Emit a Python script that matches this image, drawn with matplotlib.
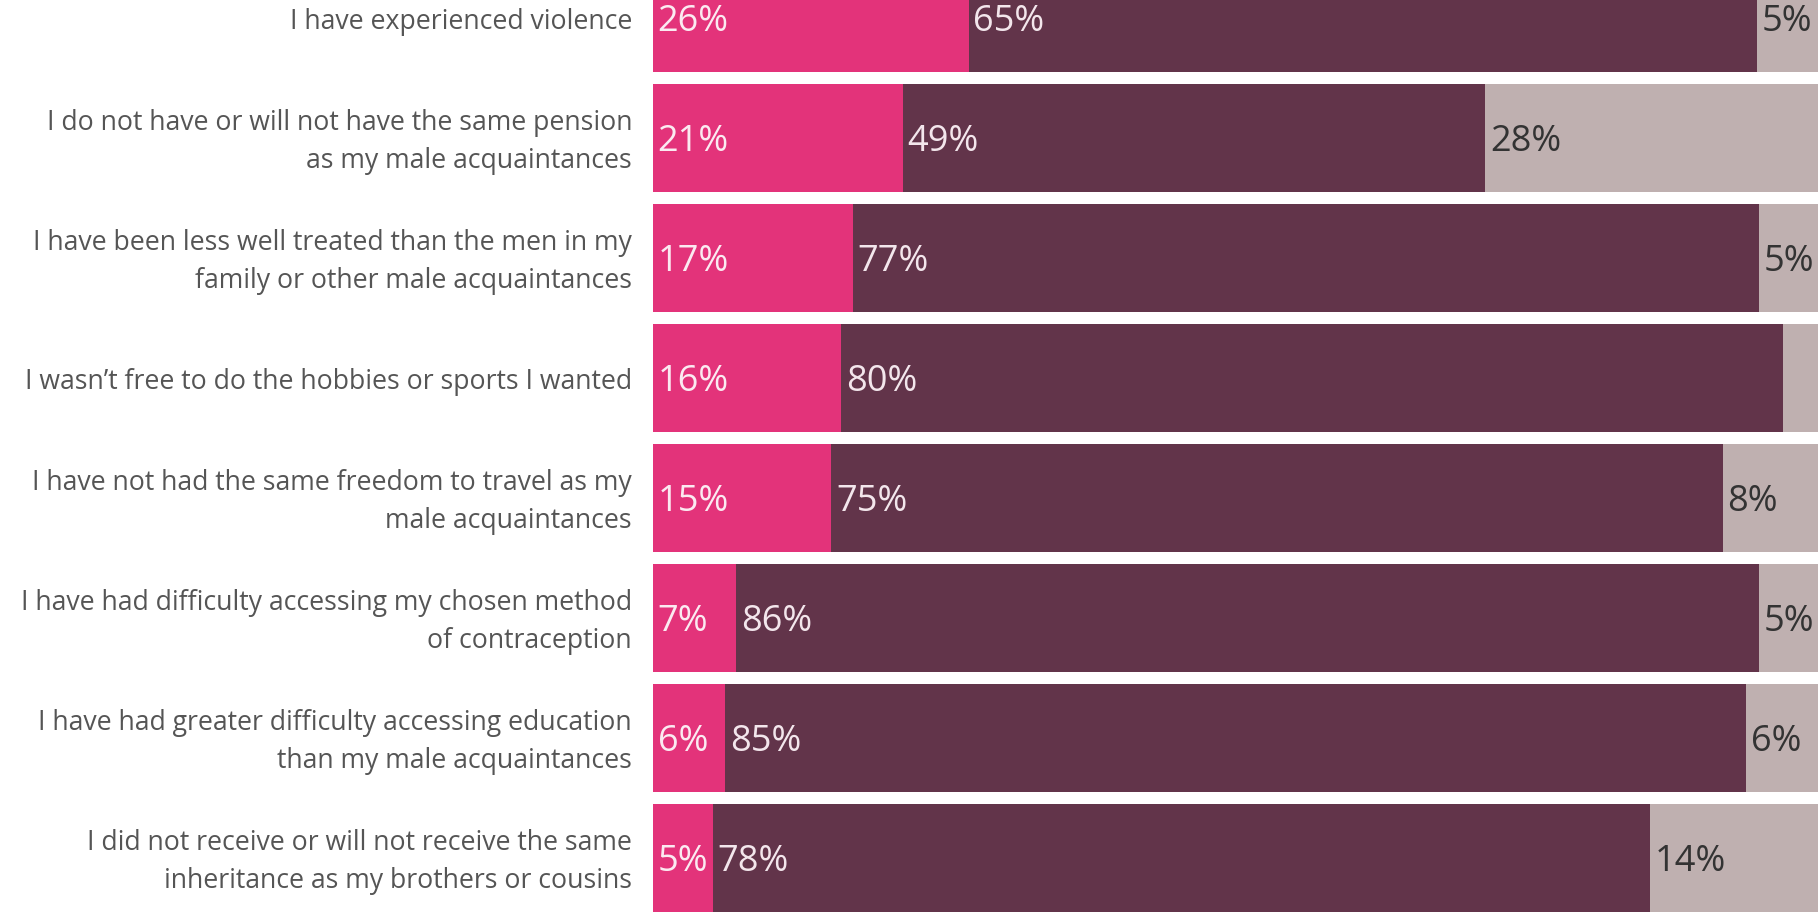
import matplotlib
matplotlib.use("Agg")
from matplotlib import pyplot as plt
import numpy as np

plt.rcParams['font.family'] = ['Open Sans', 'DejaVu Sans']

# statements, top to bottom
categories = [
    "I have experienced violence",
    "I do not have or will not have the same pension\nas my male acquaintances",
    "I have been less well treated than the men in my\nfamily or other male acquaintances",
    "I wasn\u2019t free to do the hobbies or sports I wanted",
    "I have not had the same freedom to travel as my\nmale acquaintances",
    "I have had difficulty accessing my chosen method\nof contraception",
    "I have had greater difficulty accessing education\nthan my male acquaintances",
    "I did not receive or will not receive the same\ninheritance as my brothers or cousins",
]
yes_vals = [26, 21, 17, 16, 15, 7, 6, 5]
no_vals = [65, 49, 77, 80, 75, 86, 85, 78]
dk_vals = [5, 28, 5, 3, 8, 5, 6, 14]

pink = '#e3337a'
plum = '#62344a'
grey = '#bfb0b0'

yes = np.array(yes_vals, dtype=float)
no = np.array(no_vals, dtype=float)
dk = np.array(dk_vals, dtype=float)
tot = yes + no + dk
# bars are stretched to the full width
yes_n = yes / tot * 100
no_n = no / tot * 100
dk_n = dk / tot * 100

fig = plt.figure(figsize=(18.18, 9.14), dpi=100)
ax = fig.add_axes([653 / 1818, 0, 1 - 653 / 1818, 1])

y = np.arange(len(categories))
h = 0.895
ax.barh(y, yes_n, height=h, color=pink)
ax.barh(y, no_n, left=yes_n, height=h, color=plum)
ax.barh(y, dk_n, left=yes_n + no_n, height=h, color=grey)

ax.set_xlim(0, 100)
ax.set_ylim(7.467, -0.15)
ax.axis('off')

pad = 0.4
dy = 0.03
for i in range(len(categories)):
    ax.text(pad, i + dy, f"{yes_vals[i]}%", va='center', ha='left',
            color='#fbeaf1', fontsize=26)
    ax.text(yes_n[i] + pad, i + dy, f"{no_vals[i]}%", va='center', ha='left',
            color='#f3e6ec', fontsize=26)
    if dk_vals[i] >= 4:
        ax.text(yes_n[i] + no_n[i] + pad, i + dy, f"{dk_vals[i]}%",
                va='center', ha='left', color='#333333', fontsize=26)
    # category label, right aligned left of the bars
    ax.text(-1.8, i + dy, categories[i], va='center', ha='right',
            color='#555555', fontsize=19.2, linespacing=1.48,
            clip_on=False)

fig.savefig('out.png', dpi=100)
